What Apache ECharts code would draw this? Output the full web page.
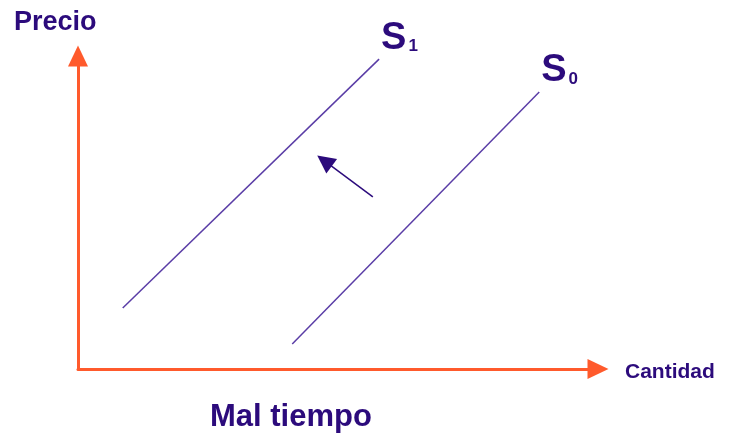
<!DOCTYPE html>
<html>
<head>
<meta charset="utf-8">
<script src="https://cdn.jsdelivr.net/npm/echarts@6/dist/echarts.min.js"></script>
<style>
  html, body { margin: 0; padding: 0; background: #fff; }
  #chart { width: 730px; height: 441px; }
</style>
</head>
<body>
<div id="chart"></div>
<script>
// 数据 (cantidad, precio) en unidades de 0-100
const s1Points = [[8.6, 19.5], [57.9, 99.0]]
const s0Points = [[41.2, 8.0], [88.7, 88.5]]
const shiftArrow = [[56.7, 55.0], [47.4, 66.5]]
const axisNames = { x: 'Cantidad', y: 'Precio' }
const caption = 'Mal tiempo'

const ink = '#2c0b7c'
const lineColor = '#5a3da6'
const axisColor = '#ff5a2c'
const font = 'Liberation Sans'

let myChart = echarts.init(document.getElementById('chart'))

function curveLabel(sub) {
  return {
    show: true,
    distance: 0,
    offset: [2, -21],
    formatter: '{s|S}{sub|' + sub + '}',
    rich: {
      s: { fontFamily: font, fontWeight: 'bold', fontSize: 38, color: ink, verticalAlign: 'bottom' },
      sub: { fontFamily: font, fontWeight: 'bold', fontSize: 17, color: ink, verticalAlign: 'bottom', padding: [0, 0, 2, 2] },
    },
  }
}

let options = {
  animation: false,
  grid: { left: 78, right: 132, top: 56, bottom: 72 },
  xAxis: {
    type: 'value',
    min: 0,
    max: 100,
    axisLine: {
      show: true,
      symbol: ['none', 'triangle'],
      symbolSize: [20, 21],
      lineStyle: { color: axisColor, width: 3 },
    },
    axisTick: { show: false },
    axisLabel: { show: false },
    splitLine: { show: false },
  },
  yAxis: {
    type: 'value',
    min: 0,
    max: 100,
    axisLine: {
      show: true,
      symbol: ['none', 'triangle'],
      symbolSize: [20, 21],
      lineStyle: { color: axisColor, width: 3 },
    },
    axisTick: { show: false },
    axisLabel: { show: false },
    splitLine: { show: false },
  },
  graphic: [
    {
      type: 'text',
      left: 14,
      top: 9,
      style: { text: axisNames.y, fontFamily: font, fontWeight: 'bold', fontSize: 27, fill: ink },
    },
    {
      type: 'text',
      left: 625,
      top: 362,
      style: { text: axisNames.x, fontFamily: font, fontWeight: 'bold', fontSize: 21, fill: ink },
    },
    {
      type: 'text',
      left: 210,
      top: 402,
      style: { text: caption, fontFamily: font, fontWeight: 'bold', fontSize: 31, fill: ink },
    },
  ],
  series: [
    {
      name: 'S1',
      type: 'line',
      data: s1Points,
      showSymbol: false,
      lineStyle: { color: lineColor, width: 1.5 },
      endLabel: curveLabel('1'),
    },
    {
      name: 'S0',
      type: 'line',
      data: s0Points,
      showSymbol: false,
      lineStyle: { color: lineColor, width: 1.5 },
      endLabel: curveLabel('0'),
    },
    {
      type: 'lines',
      coordinateSystem: 'cartesian2d',
      symbol: ['none', 'triangle'],
      symbolSize: [15, 18],
      lineStyle: { color: ink, width: 1.5, opacity: 1 },
      data: [{ coords: shiftArrow }],
    },
  ],
}

myChart.setOption(options)
</script>
</body>
</html>
